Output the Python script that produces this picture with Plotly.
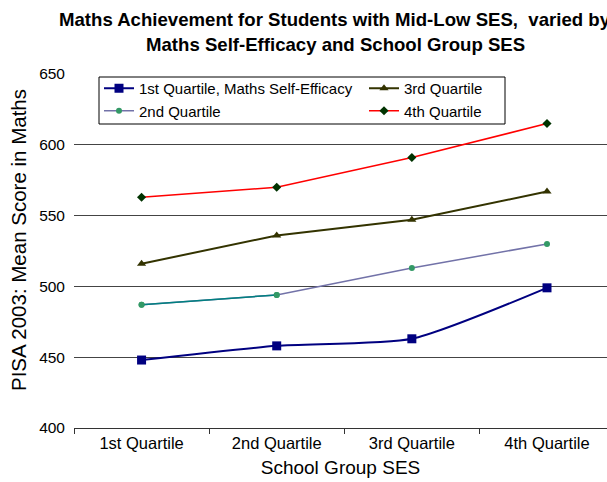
import plotly.graph_objects as go

categories = ["1st Quartile", "2nd Quartile", "3rd Quartile", "4th Quartile"]
series_names = ["1st Quartile, Maths Self-Efficacy", "2nd Quartile", "3rd Quartile", "4th Quartile"]
q1 = [448, 458, 463, 499]
q2 = [487, 494, 513, 530]
q3 = [516, 536, 547, 567]
q4 = [563, 570, 591, 615]
y_ticks = [400, 450, 500, 550, 600, 650]

xpos = list(range(len(categories)))
FONT = "Liberation Sans, Arial, sans-serif"

L, T, W, H = 74, 74, 533, 354  # plot area in pixels


def px(xp):
    return (xp - L) / W


def py(yp):
    return (T + H - yp) / H


fig = go.Figure()

fig.add_trace(go.Scatter(
    x=xpos, y=q1, name=series_names[0], mode="lines+markers", legend="legend",
    line=dict(color="#000080", width=2, shape="spline", smoothing=0.6),
    marker=dict(symbol="square", size=9, color="#000080")))
fig.add_trace(go.Scatter(
    x=xpos, y=q2, name=series_names[1], mode="lines+markers", legend="legend",
    line=dict(color="#7272A8", width=1.5),
    marker=dict(symbol="circle", size=6, color="#339966")))
fig.add_trace(go.Scatter(
    x=xpos[:2], y=q2[:2], name=series_names[1], mode="lines+markers",
    line=dict(color="#008080", width=1.5),
    marker=dict(symbol="circle", size=6, color="#339966"), showlegend=False))
fig.add_trace(go.Scatter(
    x=xpos, y=q3, name=series_names[2], mode="lines+markers", legend="legend2",
    line=dict(color="#333300", width=2),
    marker=dict(symbol="triangle-up", size=8, color="#333300")))
fig.add_trace(go.Scatter(
    x=xpos, y=q4, name=series_names[3], mode="lines+markers", legend="legend2",
    line=dict(color="#FF0000", width=1.5),
    marker=dict(symbol="diamond", size=7, color="#003300")))

legend_common = dict(
    xanchor="left", yanchor="top", bgcolor="rgba(0,0,0,0)", borderwidth=0,
    font=dict(size=15, family=FONT), tracegroupgap=0, itemwidth=30,
    orientation="v",
)

fig.update_layout(
    width=607, height=482,
    margin=dict(l=L, r=0, t=T, b=482 - T - H),
    paper_bgcolor="white", plot_bgcolor="white",
    font=dict(family=FONT, color="black", size=14),
    showlegend=True,
    legend=dict(x=px(99), y=py(72), **legend_common),
    legend2=dict(x=px(364), y=py(72), **legend_common),
    xaxis=dict(
        range=[-0.5, 3.444], tickvals=xpos, ticktext=categories, ticks="",
        showgrid=False, zeroline=False, showline=True, linecolor="#333", linewidth=1,
        tickfont=dict(size=16.5),
        minor=dict(tickvals=[-0.5, 0.5, 1.5, 2.5], ticks="outside", ticklen=5,
                   tickcolor="#333", showgrid=False),
        title=dict(text="School Group SES", font=dict(size=19), standoff=9),
    ),
    yaxis=dict(
        range=[400, 650], tickvals=y_ticks, ticks="", showgrid=True,
        gridcolor="#444", gridwidth=1, zeroline=False, showline=False,
        tickfont=dict(size=15.5), ticklabelstandoff=8,
    ),
    shapes=[dict(type="rect", xref="paper", yref="paper",
                 x0=px(99), x1=px(505), y0=py(124), y1=py(77),
                 line=dict(color="black", width=1), fillcolor="rgba(0,0,0,0)",
                 layer="above")],
    annotations=[
        dict(text="<b>Maths Achievement for Students with Mid-Low SES,  varied by</b>",
             xref="paper", yref="paper", x=px(335), y=py(20), showarrow=False,
             xanchor="center", yanchor="middle", font=dict(size=18.6, family=FONT)),
        dict(text="<b>Maths Self-Efficacy and School Group SES</b>",
             xref="paper", yref="paper", x=px(335), y=py(45), showarrow=False,
             xanchor="center", yanchor="middle", font=dict(size=18.6, family=FONT)),
        dict(text="PISA 2003: Mean Score in Maths", textangle=-90,
             xref="paper", yref="paper", x=px(18), y=py(240), showarrow=False,
             xanchor="center", yanchor="middle", font=dict(size=20.5, family=FONT)),
    ],
)

fig.write_html("out.html")
